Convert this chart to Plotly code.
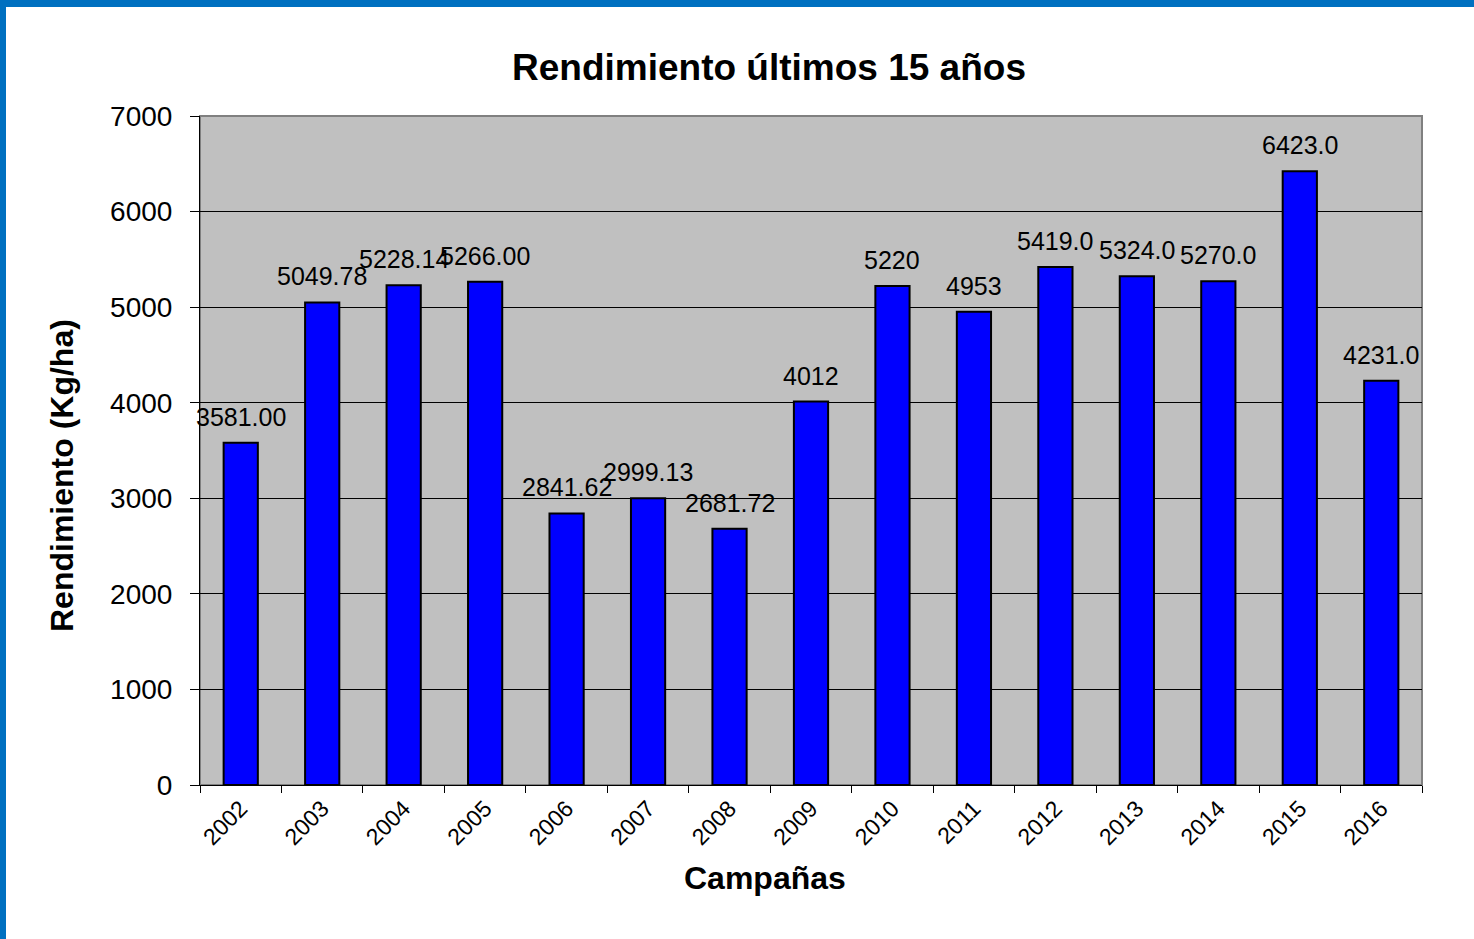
import plotly.graph_objects as go

campanas = ["2002", "2003", "2004", "2005", "2006", "2007", "2008", "2009",
            "2010", "2011", "2012", "2013", "2014", "2015", "2016"]
rendimiento = [3581.00, 5049.78, 5228.14, 5266.00, 2841.62, 2999.13, 2681.72, 4012,
               5220, 4953, 5419.0, 5324.0, 5270.0, 6423.0, 4231.0]
etiquetas = ["3581.00", "5049.78", "5228.14", "5266.00", "2841.62", "2999.13", "2681.72", "4012",
             "5220", "4953", "5419.0", "5324.0", "5270.0", "6423.0", "4231.0"]
y_ticks = [0, 1000, 2000, 3000, 4000, 5000, 6000, 7000]

W, H = 1474, 939
ML, MR, MT, MB = 200, 52, 116, 154
PW, PH = W - ML - MR, H - MT - MB

FONT = "Liberation Sans, Arial, sans-serif"

fig = go.Figure()
fig.add_trace(go.Bar(
    x=campanas, y=rendimiento,
    marker=dict(color="#0000FF", line=dict(color="#000000", width=2)),
    hoverinfo="x+y",
))

annotations = []
for i, (v, t) in enumerate(zip(rendimiento, etiquetas)):
    annotations.append(dict(x=i, y=v, xref="x", yref="y", text=t, showarrow=False,
                            yanchor="bottom", xanchor="center", yshift=10,
                            font=dict(family=FONT, size=25, color="#000000")))

def px_x(p):
    return (p - ML) / PW

def px_y(p):
    return (H - MB - p) / PH

annotations.append(dict(x=px_x(765), y=px_y(878), xref="paper", yref="paper",
                        text="<b>Campañas</b>", showarrow=False, xanchor="center", yanchor="middle",
                        font=dict(family=FONT, size=32, color="#000000")))
annotations.append(dict(x=px_x(62), y=px_y(476), xref="paper", yref="paper",
                        text="<b>Rendimiento (Kg/ha)</b>", showarrow=False, textangle=-90,
                        xanchor="center", yanchor="middle",
                        font=dict(family=FONT, size=32, color="#000000")))

shapes = [
    dict(type="rect", xref="paper", yref="paper", x0=0, x1=1, y0=0, y1=1,
         line=dict(color="#808080", width=2), fillcolor="rgba(0,0,0,0)", layer="below"),
    dict(type="rect", xref="paper", yref="paper", x0=px_x(0), x1=px_x(6),
         y0=px_y(H), y1=px_y(0), line=dict(width=0), fillcolor="#0070C0"),
    dict(type="rect", xref="paper", yref="paper", x0=px_x(0), x1=px_x(W),
         y0=px_y(7), y1=px_y(0), line=dict(width=0), fillcolor="#0070C0"),
]

fig.update_layout(
    width=W, height=H,
    margin=dict(l=ML, r=MR, t=MT, b=MB, pad=0),
    paper_bgcolor="#FFFFFF",
    plot_bgcolor="#C0C0C0",
    bargap=0.58,
    showlegend=False,
    font=dict(family=FONT, color="#000000"),
    title=dict(text="<b>Rendimiento últimos 15 años</b>", x=769 / W, y=1 - 67 / H,
               xref="container", yref="container", xanchor="center", yanchor="middle",
               font=dict(family=FONT, size=37, color="#000000")),
    xaxis=dict(type="category", showline=True, linecolor="#000000", linewidth=1,
               ticks="outside", tickson="boundaries", ticklen=7, tickcolor="#000000",
               tickangle=-45, tickfont=dict(family=FONT, size=23, color="#000000"),
               showgrid=False, range=[-0.5, len(campanas) - 0.5]),
    yaxis=dict(range=[0, 7000], tickvals=y_ticks, showline=True, linecolor="#000000",
               linewidth=1, ticks="outside", ticklen=9, tickcolor="#000000",
               ticklabelstandoff=12,
               tickfont=dict(family=FONT, size=28, color="#000000"),
               showgrid=True, gridcolor="#000000", gridwidth=1, zeroline=False),
    annotations=annotations,
    shapes=shapes,
)

fig.write_html("out.html", config={"displayModeBar": False},
               post_script="document.body.style.margin='0';")
